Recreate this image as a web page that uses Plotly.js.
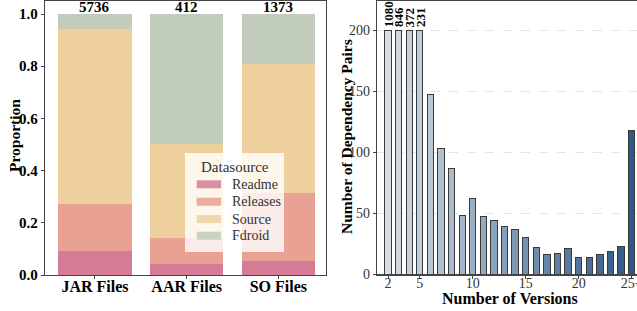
<!DOCTYPE html>
<html>
<head>
<meta charset="utf-8">
<script src="https://cdn.plot.ly/plotly-3.0.1.min.js"></script>
<style>html,body{margin:0;padding:0;background:#fff}#chart{width:637px;height:311px}</style>
</head>
<body>
<div id="chart"></div>
<script>
// ---- Left panel data ----
var fileTypes = ["JAR Files", "AAR Files", "SO Files"];
var fileTotals = [5736, 412, 1373];
var sourceNames = ["Readme", "Releases", "Source", "Fdroid"];
var readme   = [0.091, 0.042, 0.054];
var releases = [0.181, 0.100, 0.259];
var source   = [0.669, 0.360, 0.497];
var fdroid   = [0.059, 0.498, 0.190];

// ---- Right panel data ----
var versionTicks = ["2","3","4","5","6","7","8","9","10","11","12","13","14","15","16","17","18","19","20","21","22","23","24","25+"];
var versionX = [2,3,4,5,6,7,8,9,10,11,12,13,14,15,16,17,18,19,20,21,22,23,24,25];
var pairCounts = [1080, 846, 372, 231, 147, 103, 87, 48, 62, 47, 44, 39, 37, 30, 22, 16, 17, 21, 14, 14, 16, 19, 23, 118];
var capValue = 200;

var FONT = "Liberation Serif, serif";
var AXC = "#444";
var sourceColors = ["#d47b96", "#e8a193", "#edd09d", "#c1ccba"];
var sourceVals = [readme, releases, source, fdroid];

var xIdx = fileTypes.map(function(_, i){ return i; });
var traces = sourceNames.map(function(name, k){
  return {type: "bar", name: name, x: xIdx, y: sourceVals[k], width: 0.8, showlegend: false,
          marker: {color: sourceColors[k], line: {width: 0}}, xaxis: "x", yaxis: "y", hoverinfo: "skip"};
});

// gradient colours for right bars (style only)
var c0 = [214, 222, 230], c1 = [46, 88, 135];
var barColors = versionX.map(function(_, i){
  var t = i / (versionX.length - 1);
  return "rgb(" + c0.map(function(c, k){ return Math.round(c + (c1[k] - c) * t); }).join(",") + ")";
});
var shown = pairCounts.map(function(v){ return Math.min(v, capValue); });
traces.push({type: "bar", x: versionX, y: shown, width: 0.6, showlegend: false,
  marker: {color: barColors, line: {color: "#3a3a3a", width: 1}}, xaxis: "x2", yaxis: "y2", hoverinfo: "skip"});

function px(x){ return x / 637; }
function py(y){ return (311 - y) / 311; }

var annotations = [];
fileTotals.forEach(function(t, i){
  annotations.push({xref: "x", yref: "y", x: i, y: 1.0, text: "<b>" + t + "</b>", showarrow: false,
    yanchor: "middle", xanchor: "center", yshift: 7.5, font: {family: FONT, size: 15, color: "#000"}});
});
pairCounts.forEach(function(v, i){
  if (v > capValue) {
    annotations.push({xref: "x2", yref: "y2", x: versionX[i], y: capValue, text: "<b>" + v + "</b>", showarrow: false,
      textangle: -90, yanchor: "bottom", xanchor: "center", yshift: 1, font: {family: FONT, size: 13, color: "#000"}});
  }
});
annotations.push({xref: "paper", yref: "paper", x: px(14), y: py(136), xanchor: "center", yanchor: "middle",
  text: "<b>Proportion</b>", textangle: -90, showarrow: false, font: {family: FONT, size: 15.5, color: "#000"}});
annotations.push({xref: "paper", yref: "paper", x: px(346), y: py(137), xanchor: "center", yanchor: "middle",
  text: "<b>Number of Dependency Pairs</b>", textangle: -90, showarrow: false, font: {family: FONT, size: 15.5, color: "#000"}});
annotations.push({xref: "paper", yref: "paper", x: px(510), y: py(298), xanchor: "center", yanchor: "middle",
  text: "<b>Number of Versions</b>", showarrow: false, font: {family: FONT, size: 16, color: "#000"}});

// legend box drawn over the bars
var shapes = [{type: "rect", xref: "paper", yref: "paper", layer: "above",
  x0: px(185), x1: px(284), y0: py(252), y1: py(153),
  fillcolor: "rgba(255,255,255,0.8)", line: {width: 0}}];
annotations.push({xref: "paper", yref: "paper", x: px(234.5), y: py(167), xanchor: "center", yanchor: "middle",
  text: "Datasource", showarrow: false, font: {family: FONT, size: 15, color: "#333"}});
var itemY = [184.3, 201.7, 219, 235.7];
sourceNames.forEach(function(name, k){
  shapes.push({type: "rect", xref: "paper", yref: "paper", layer: "above",
    x0: px(196.7), x1: px(221), y0: py(itemY[k] + 4), y1: py(itemY[k] - 4),
    fillcolor: sourceColors[k], opacity: 0.85, line: {width: 0}});
  annotations.push({xref: "paper", yref: "paper", x: px(230), y: py(itemY[k]), xanchor: "left", yanchor: "middle",
    text: name, showarrow: false, font: {family: FONT, size: 14, color: "#333"}});
});

var layout = {
  width: 637, height: 311,
  margin: {l: 0, r: 0, t: 0, b: 0},
  paper_bgcolor: "#fff", plot_bgcolor: "#fff",
  barmode: "stack",
  font: {family: FONT, color: "#000"},
  showlegend: false,
  xaxis: {domain: [px(45), px(326)], range: [-0.545, 2.52], tickvals: xIdx,
    ticktext: fileTypes.map(function(s){ return "<b>" + s + "</b>"; }),
    tickfont: {family: FONT, size: 16, color: "#000"}, ticks: "outside", ticklen: 3, tickcolor: AXC, ticklabelstandoff: -6,
    showline: true, linecolor: AXC, linewidth: 1.2, mirror: true, showgrid: false, zeroline: false, anchor: "y"},
  yaxis: {domain: [36/311, 310/311], range: [0, 1.05], tickvals: [0, 0.2, 0.4, 0.6, 0.8, 1.0],
    ticktext: ["<b>0.0</b>", "<b>0.2</b>", "<b>0.4</b>", "<b>0.6</b>", "<b>0.8</b>", "<b>1.0</b>"],
    tickfont: {family: FONT, size: 15, color: "#000"}, ticks: "outside", ticklen: 3, tickcolor: AXC,
    showline: true, linecolor: AXC, linewidth: 1.2, mirror: true, showgrid: false, zeroline: false, anchor: "x"},
  xaxis2: {domain: [px(377), 1], range: [0.96, 25.5], tickvals: [2, 5, 10, 15, 20, 25],
    ticktext: ["2", "5", "10", "15", "20", "25+"], ticklabeloverflow: "allow", ticklabelstandoff: -7,
    tickfont: {family: FONT, size: 14, color: "#333"}, ticks: "outside", ticklen: 3, tickcolor: AXC,
    showline: true, linecolor: AXC, linewidth: 1.2, mirror: true, showgrid: false, zeroline: false, anchor: "y2"},
  yaxis2: {domain: [36.7/311, 310/311], range: [0, 224], tickvals: [0, 50, 100, 150, 200],
    tickfont: {family: FONT, size: 14, color: "#333"}, ticks: "outside", ticklen: 3, tickcolor: AXC,
    showline: true, linecolor: AXC, linewidth: 1.2, mirror: true,
    showgrid: true, gridcolor: "#dddddd", griddash: "dash", gridwidth: 0.8, zeroline: false, anchor: "x2"},
  shapes: shapes,
  annotations: annotations
};

Plotly.newPlot("chart", traces, layout, {displayModeBar: false, staticPlot: true});
</script>
</body>
</html>
